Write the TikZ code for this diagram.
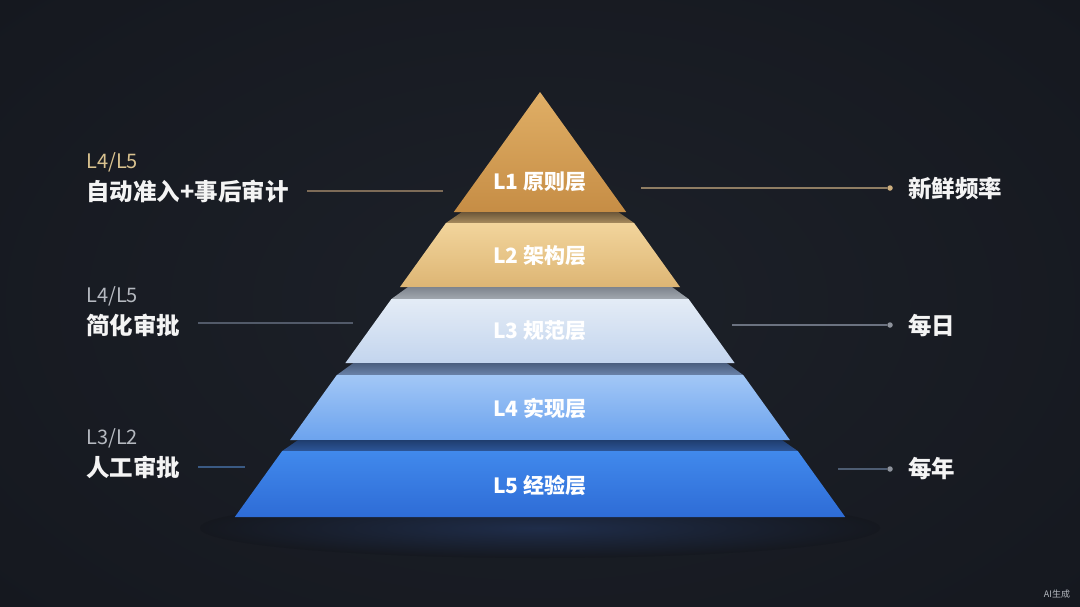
\documentclass[tikz,border=0pt]{standalone}
\usepackage{fontspec}
\setmainfont{Noto Sans CJK SC}
\definecolor{bg}{HTML}{15181F}
\definecolor{bgc}{HTML}{1D2129}
\definecolor{glow}{HTML}{1F2D4A}
\definecolor{goldlbl}{HTML}{D9C28F}
\definecolor{graylbl}{HTML}{B5B9C0}
\definecolor{txt}{HTML}{F4F4F4}
\definecolor{aT}{HTML}{E0AF66}\definecolor{aB}{HTML}{C68D45}
\definecolor{bT}{HTML}{F2D59C}\definecolor{bB}{HTML}{DDB574}
\definecolor{cT}{HTML}{E4ECF6}\definecolor{cB}{HTML}{C3D5EE}
\definecolor{dT}{HTML}{A2C7F6}\definecolor{dB}{HTML}{6CA3EE}
\definecolor{eT}{HTML}{4189EC}\definecolor{eB}{HTML}{2E6CD6}
\definecolor{tbT}{HTML}{6B5639}\definecolor{tbB}{HTML}{A88C5E}
\definecolor{tcT}{HTML}{7E848D}\definecolor{tcB}{HTML}{A2A8B0}
\definecolor{tdT}{HTML}{4B5F80}\definecolor{tdB}{HTML}{6B83AA}
\definecolor{teT}{HTML}{1F3D6E}\definecolor{teB}{HTML}{2D5699}
\definecolor{lnA}{HTML}{7D6B57}
\definecolor{lnB}{HTML}{525A69}
\definecolor{lnC}{HTML}{3A5A84}
\definecolor{rnA}{HTML}{8F7D63}
\definecolor{rnB}{HTML}{6B7280}
\definecolor{rnC}{HTML}{4D5C72}
\definecolor{dotA}{HTML}{CDAE7E}
\definecolor{dotB}{HTML}{8E939C}
\begin{document}
\begin{tikzpicture}[x=1pt,y=-1pt,
  layertxt/.style={text=white,font=\fontsize{21}{25}\selectfont\bfseries,inner sep=0pt},
  sublbl/.style={anchor=west,font=\fontsize{20}{24}\selectfont,inner sep=0pt},
  mainlbl/.style={anchor=west,text=txt,font=\fontsize{23.5}{27}\selectfont\bfseries,inner sep=0pt},
  leader/.style={line width=1.2pt},
  enddot/.style={circle,inner sep=0pt,minimum size=5.5pt}]
\useasboundingbox (0,0) rectangle (1080,606);
\fill[bg] (0,0) rectangle (1080,606);
\shade[inner color=bgc,outer color=bg] (-200,-150) rectangle (1280,756);
% glow under base
\shade[inner color=glow,outer color=bg] (540,528) ellipse [x radius=340,y radius=30];
% L1
\shade[top color=aT,bottom color=aB] (540,92) -- (626.2,212) -- (453.8,212) -- cycle;
% L2 top face + front
\shade[top color=tbT,bottom color=tbB] (461.8,212) -- (618.2,212) -- (634.1,223) -- (445.9,223) -- cycle;
\shade[top color=bT,bottom color=bB] (445.9,223) -- (634.1,223) -- (680,287) -- (400,287) -- cycle;
% L3
\shade[top color=tcT,bottom color=tcB] (408,287) -- (672,287) -- (688.6,299) -- (391.4,299) -- cycle;
\shade[top color=cT,bottom color=cB] (391.4,299) -- (688.6,299) -- (734.6,363) -- (345.4,363) -- cycle;
% L4
\shade[top color=tdT,bottom color=tdB] (353.4,363) -- (726.6,363) -- (743.2,375) -- (336.8,375) -- cycle;
\shade[top color=dT,bottom color=dB] (336.8,375) -- (743.2,375) -- (789.9,440) -- (290.1,440) -- cycle;
% L5
\shade[top color=teT,bottom color=teB] (298.1,440) -- (781.9,440) -- (797.8,451) -- (282.2,451) -- cycle;
\shade[top color=eT,bottom color=eB] (282.2,451) -- (797.8,451) -- (845.2,517) -- (234.8,517) -- cycle;
% layer labels
\node[layertxt] (l1) at (540,182) {L1 原则层};
\node[layertxt] (l2) at (540,256) {L2 架构层};
\node[layertxt] (l3) at (540,331) {L3 规范层};
\node[layertxt] (l4) at (540,408) {L4 实现层};
\node[layertxt] (l5) at (540,485) {L5 经验层};
% left labels
\node[sublbl,text=goldlbl] (la1) at (86,162) {L4/L5};
\node[mainlbl] (lb1) at (86,191) {自动准入+事后审计};
\node[sublbl,text=graylbl] (la2) at (86,296) {L4/L5};
\node[mainlbl] (lb2) at (86,325) {简化审批};
\node[sublbl,text=graylbl] (la3) at (86,438) {L3/L2};
\node[mainlbl] (lb3) at (86,467) {人工审批};
\coordinate (lp1a) at (307,191); \coordinate (lp1b) at (443,191);
\coordinate (lp2a) at (198,323); \coordinate (lp2b) at (353,323);
\coordinate (lp3a) at (198,467); \coordinate (lp3b) at (245,467);
\draw[leader,lnA] (lp1a) -- (lp1b);
\draw[leader,lnB] (lp2a) -- (lp2b);
\draw[leader,lnC] (lp3a) -- (lp3b);
% right labels
\node[enddot,fill=dotA] (d1) at (890,188) {};
\node[enddot,fill=dotB] (d2) at (890,325) {};
\node[enddot,fill=dotB] (d3) at (890,469) {};
\coordinate (rp1) at (641,188);
\coordinate (rp2) at (732,325);
\coordinate (rp3) at (838,469);
\draw[leader,rnA] (rp1) -- (d1);
\draw[leader,rnB] (rp2) -- (d2);
\draw[leader,rnC] (rp3) -- (d3);
\node[mainlbl] (r1) at (908,189) {新鲜频率};
\node[mainlbl] (r2) at (908,326) {每日};
\node[mainlbl] (r3) at (908,469) {每年};
\node[text=graylbl,font=\fontsize{9}{10}\selectfont,inner sep=0pt] (ai) at (1057,594) {AI生成};
\end{tikzpicture}
\end{document}
